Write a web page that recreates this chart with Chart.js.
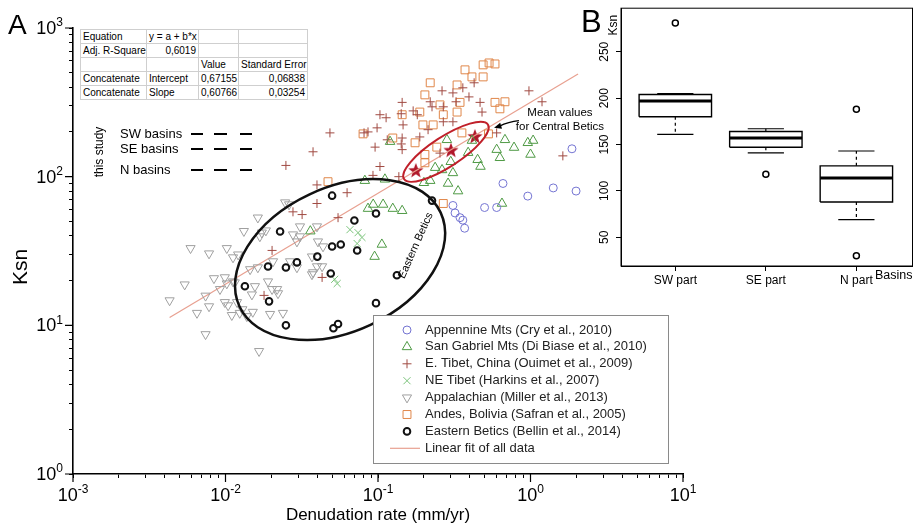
<!DOCTYPE html>
<html>
<head>
<meta charset="utf-8">
<script src="https://cdn.jsdelivr.net/npm/chart.js"></script>
<style>
  body { margin: 0; background: #fff; font-family: "Liberation Sans", Arial, sans-serif; }
  #wrap { position: relative; width: 918px; height: 529px; overflow: hidden; }
  #main { position: absolute; left: 0; top: 0; }
  #box { position: absolute; left: 580px; top: 0; }
  .panel { position: absolute; line-height: 1; color: #000; }
  table.fit { position: absolute; left: 80px; top: 29px; border-collapse: collapse; font-size: 10px;
              border: 1px solid #666; background: #fff; table-layout: fixed; width: 227px; }
  table.fit td { border: 1px solid #cfcfcf; height: 13px; line-height: 13px; padding: 0 2px; white-space: nowrap; overflow: hidden; }
  table.fit td.r { text-align: right; }
</style>
</head>
<body>
<div id="wrap">
  <canvas id="main" width="918" height="529"></canvas>
  <canvas id="box" width="338" height="290"></canvas>
  <div class="panel" style="left:8px;top:11px;font-size:28px">A</div>
  <div class="panel" style="left:581px;top:6px;font-size:31px">B</div>
  <table class="fit">
    <colgroup><col style="width:66px"><col style="width:52px"><col style="width:40px"><col style="width:69px"></colgroup>
    <tr><td>Equation</td><td>y = a + b*x</td><td></td><td></td></tr>
    <tr><td>Adj. R-Square</td><td class="r">0,6019</td><td></td><td></td></tr>
    <tr><td></td><td></td><td>Value</td><td>Standard Error</td></tr>
    <tr><td>Concatenate</td><td>Intercept</td><td>0,67155</td><td class="r">0,06838</td></tr>
    <tr><td>Concatenate</td><td>Slope</td><td>0,60766</td><td class="r">0,03254</td></tr>
  </table>
</div>
<script>
Chart.defaults.font.family = '"Liberation Sans", Arial, sans-serif';
Chart.defaults.color = '#000';

// ---- panel A data (denudation rate mm/yr, Ksn) ----
const xDecades = [0.001, 0.01, 0.1, 1, 10];
const xTickExp = ['-3', '-2', '-1', '0', '1'];
const yDecades = [1, 10, 100, 1000];
const yTickExp = ['0', '1', '2', '3'];

const appennineX = [1.87, 0.66, 0.96, 1.41, 1.99, 0.50, 0.60, 0.31, 0.32, 0.345, 0.36, 0.37];
const appennineY = [154, 90, 74, 84, 80, 62, 62, 64, 57, 53, 51, 45];

const sanGabrielX = [0.12, 0.283, 0.413, 0.60, 0.78, 0.68, 0.63, 0.96, 1.04, 1.0, 0.45, 0.47, 0.39, 0.30, 0.237, 0.263,
  0.31, 0.288, 0.335, 0.22, 0.082, 0.111, 0.093, 0.108, 0.125, 0.144, 0.086, 0.036, 0.106, 0.095, 0.65, 0.20];
const sanGabrielY = [172, 177, 175, 152, 157, 177, 134, 169, 175, 141, 130, 117, 145, 126, 115, 111,
  106, 90, 80, 94, 94, 96, 65, 65, 61, 59, 61, 43, 35, 29, 66, 91];

const eTibetX = [0.0484, 0.0375, 0.0249, 0.0398, 0.0627, 0.0957, 0.115, 0.103, 0.113, 0.081, 0.0986, 0.144, 0.142,
  0.146, 0.144, 0.142, 0.144, 0.103, 0.0927, 0.17, 0.181, 0.22, 0.226, 0.213, 0.137, 0.0398, 0.0277, 0.0318, 0.0547,
  0.0202, 0.0179, 0.043, 0.263, 0.31, 0.36, 0.395, 0.427, 0.467, 0.481, 0.325, 0.268, 0.268, 0.31, 0.977, 1.19, 1.63,
  0.188, 0.255, 0.60, 0.086];
const eTibetY = [197, 147, 119, 88, 78, 158, 177, 261, 249, 197, 213, 316, 265,
  223, 182, 166, 152, 117, 102, 277, 261, 319, 295, 207, 100, 66, 58, 55.6, 53,
  31.9, 15.9, 21, 378, 366, 396, 344, 428, 316, 272, 319, 295, 234, 234, 378, 319, 138,
  185, 144, 197, 200];

const neTibetX = [0.0655, 0.074, 0.0785, 0.073, 0.052, 0.054];
const neTibetY = [44, 42, 39, 35.5, 20.4, 19.1];

const appalachianX = [0.0163, 0.0246, 0.0261, 0.0132, 0.0173, 0.0184, 0.0059, 0.0078, 0.0102, 0.0112, 0.0084, 0.0099,
  0.0102, 0.0112, 0.0145, 0.0163, 0.019, 0.0202, 0.0218, 0.0221, 0.0265, 0.0294, 0.0043, 0.0065, 0.0074, 0.0078,
  0.0099, 0.0104, 0.011, 0.0124, 0.0138, 0.0119, 0.0074, 0.0166, 0.0196, 0.0238, 0.0308, 0.0277, 0.0398, 0.0404,
  0.043, 0.0369, 0.0168, 0.0308, 0.0294, 0.0436, 0.0369, 0.0398, 0.0375, 0.0205, 0.0121, 0.0156, 0.0149, 0.0115,
  0.0151, 0.0129, 0.0092, 0.0054];
const appalachianY = [53, 67, 65, 43, 42, 43.4, 33, 30.4, 33, 28.6, 20.7, 21,
  19.1, 19.7, 23.8, 24.5, 19.7, 17.5, 17.5, 16.4, 26.9, 24.5, 14.7, 12.1, 15.8, 13.4,
  14.3, 13.6, 11.7, 12.1, 11.5, 14.3, 8.7, 6.7, 11.9, 12.1, 46.2, 40.8, 46.2, 36.6,
  24.9, 22, 39.6, 39.6, 36.6, 33.9, 29, 24.9, 22.7, 26.9, 29.9, 18.3, 16.1, 19.4,
  12.3, 12.8, 17.5, 18.8];

const andesX = [0.489, 0.535, 0.585, 0.372, 0.413, 0.489, 0.33, 0.22, 0.203, 0.345, 0.255, 0.33, 0.188, 0.585, 0.68,
  0.63, 0.23, 0.197, 0.355, 0.53, 0.203, 0.203, 0.268, 0.268, 0.175, 0.243, 0.125, 0.144, 0.0798, 0.047];
const andesY = [565, 582, 573, 523, 469, 469, 414, 428, 355, 316, 304, 272, 272, 316, 319,
  286, 223, 223, 197, 194, 141, 124, 66, 261, 169, 158, 182, 261, 194, 92.5];

const easternBeticsX = [0.050, 0.070, 0.097, 0.226, 0.0228, 0.050, 0.057, 0.073, 0.040, 0.0294, 0.019, 0.0249,
  0.049, 0.133, 0.0134, 0.0193, 0.097, 0.0249, 0.051, 0.0547];
const easternBeticsY = [74.5, 50.7, 56.5, 69, 42.8, 33.9, 35, 31.9, 29, 26.5, 24.9, 24.5,
  22.3, 21.7, 18.3, 14.5, 14.1, 10, 9.55, 10.2];

const centralBeticsX = [0.177, 0.301, 0.432];
const centralBeticsY = [111, 152, 188];

const fitX = [0.0043, 2.05];
const fitY = [11.3, 490];

// ---- panel B data (Ksn by basin group) ----
const boxLabels = ['SW part', 'SE part', 'N part'];
const boxMin = [161, 141, 69];
const boxQ1 = [180, 147, 88];
const boxMed = [197, 157, 114];
const boxQ3 = [204, 164, 127];
const boxMax = [205, 167, 143];
const boxOutliers = [[281], [118], [188, 30]];

function pts(xs, ys) { return xs.map((x, i) => ({ x: x, y: ys[i] })); }

function logTicks(decades) {
  const t = [];
  decades.forEach((d, i) => {
    t.push({ value: d, major: true });
    if (i < decades.length - 1) for (let m = 2; m <= 9; m++) t.push({ value: d * m, major: false });
  });
  return t;
}

function makeStar(r, color) {
  const c = document.createElement('canvas');
  c.width = c.height = Math.ceil(r * 2 + 2);
  const g = c.getContext('2d');
  g.translate(c.width / 2, c.height / 2 + 1);
  g.beginPath();
  for (let i = 0; i < 10; i++) {
    const rad = i % 2 ? r * 0.42 : r;
    const a = -Math.PI / 2 + i * Math.PI / 5;
    g.lineTo(Math.cos(a) * rad, Math.sin(a) * rad);
  }
  g.closePath();
  g.fillStyle = color;
  g.fill();
  return c;
}

function drawMarker(ctx, style, r, rot, x, y) {
  ctx.beginPath();
  if (style === 'circle') ctx.arc(x, y, r, 0, Math.PI * 2);
  else if (style === 'rect') { const s = r * Math.SQRT1_2; ctx.rect(x - s, y - s, 2 * s, 2 * s); }
  else if (style === 'triangle') {
    const a0 = rot * Math.PI / 180;
    for (let k = 0; k < 3; k++) { const a = a0 + k * 2 * Math.PI / 3; ctx.lineTo(x + Math.sin(a) * r, y - Math.cos(a) * r); }
    ctx.closePath();
  } else if (style === 'cross') { ctx.moveTo(x, y - r); ctx.lineTo(x, y + r); ctx.moveTo(x - r, y); ctx.lineTo(x + r, y); }
  else if (style === 'crossRot') {
    const d = r * Math.SQRT1_2;
    ctx.moveTo(x - d, y - d); ctx.lineTo(x + d, y + d); ctx.moveTo(x + d, y - d); ctx.lineTo(x - d, y + d);
  }
  ctx.stroke();
}

function marks(label, xs, ys, style, r, color, lw, rot) {
  return {
    label: label, data: pts(xs, ys),
    pointStyle: style, pointRadius: r, pointRotation: rot || 0,
    borderColor: color, backgroundColor: 'rgba(0,0,0,0)', borderWidth: lw
  };
}

const mainSets = [
  marks('Eastern Betics (Bellin et al., 2014)', easternBeticsX, easternBeticsY, 'circle', 3.3, '#111', 2),
  marks('Appennine Mts (Cry et al., 2010)', appennineX, appennineY, 'circle', 4, '#7474d2', 1),
  marks('San Gabriel Mts (Di Biase et al., 2010)', sanGabrielX, sanGabrielY, 'triangle', 5.5, '#4f9a45', 1),
  marks('E. Tibet, China (Ouimet et al., 2009)', eTibetX, eTibetY, 'cross', 4.5, '#a04a42', 1),
  marks('NE Tibet (Harkins et al., 2007)', neTibetX, neTibetY, 'crossRot', 5, '#7cc47c', 1),
  marks('Appalachian (Miller et al., 2013)', appalachianX, appalachianY, 'triangle', 5.3, '#a0a0a0', 1, 180),
  marks('Andes, Bolivia (Safran et al., 2005)', andesX, andesY, 'rect', 5.6, '#e0874a', 1),
  { label: 'Linear fit of all data', data: pts(fitX, fitY), showLine: true,
    pointRadius: 0, borderColor: '#e8a090', borderWidth: 1.2 },
  { label: 'Central Betics', data: pts(centralBeticsX, centralBeticsY), pointStyle: makeStar(8, '#b0182a'),
    pointRadius: 8, borderWidth: 0 }
];
const keyOrder = [1, 2, 3, 4, 5, 6, 0, 7];

const FONT = s => s + 'px "Liberation Sans", Arial, sans-serif';

// "10" with a raised exponent, anchored by its right edge or centre
function powText(ctx, exp, x, y, align) {
  ctx.font = FONT(18);
  const wb = ctx.measureText('10').width;
  ctx.font = FONT(12);
  const we = ctx.measureText(exp).width;
  const x0 = align === 'right' ? x - wb - we : x - (wb + we) / 2;
  ctx.textAlign = 'left'; ctx.textBaseline = 'middle';
  ctx.font = FONT(18); ctx.fillText('10', x0, y);
  ctx.font = FONT(12); ctx.fillText(exp, x0 + wb, y - 6);
}

const decorA = {
  id: 'decorA',
  afterDraw(chart) {
    const ctx = chart.ctx, xs = chart.scales.x, ys = chart.scales.y, a = chart.chartArea;
    ctx.save();
    ctx.fillStyle = '#000';

    // longer ticks and labels at the decades
    ctx.strokeStyle = '#000'; ctx.lineWidth = 1.2;
    ctx.beginPath();
    xDecades.forEach(d => { const p = xs.getPixelForValue(d); ctx.moveTo(p, a.bottom); ctx.lineTo(p, a.bottom + 8); });
    yDecades.forEach(d => { const p = ys.getPixelForValue(d); ctx.moveTo(a.left, p); ctx.lineTo(a.left - 8, p); });
    ctx.stroke();
    xDecades.forEach((d, i) => powText(ctx, xTickExp[i], xs.getPixelForValue(d), a.bottom + 22, 'center'));
    yDecades.forEach((d, i) => powText(ctx, yTickExp[i], a.left - 10, ys.getPixelForValue(d) + 1, 'right'));

    // axis title on the left
    ctx.save();
    ctx.translate(21, 267); ctx.rotate(-Math.PI / 2);
    ctx.textAlign = 'center'; ctx.textBaseline = 'middle'; ctx.font = FONT(21);
    ctx.fillText('Ksn', 0, 0);
    ctx.restore();

    // ellipses
    const ell = (cx, cy, rx, ry, deg, color, lw) => {
      ctx.beginPath();
      ctx.ellipse(xs.getPixelForValue(cx), ys.getPixelForValue(cy), rx, ry, deg * Math.PI / 180, 0, Math.PI * 2);
      ctx.strokeStyle = color; ctx.lineWidth = lw; ctx.stroke();
    };
    ell(0.0564, 27.7, 111, 72, -25, '#111', 2.5);
    ell(0.279, 147, 50, 15, -33, '#c0202a', 2);

    // "Eastern Betics" label
    ctx.font = FONT(11); ctx.textAlign = 'center'; ctx.textBaseline = 'middle';
    ctx.save();
    ctx.translate(xs.getPixelForValue(0.177), ys.getPixelForValue(34.4));
    ctx.rotate(-66 * Math.PI / 180);
    ctx.fillText('Eastern Betics', 0, 0);
    ctx.restore();

    // mean values note + arrow
    const tx = xs.getPixelForValue(1.56), ty = ys.getPixelForValue(269);
    ctx.font = FONT(11.5);
    ctx.fillText('Mean values', tx, ty);
    ctx.fillText('for Central Betics', tx, ty + 14);
    const x0 = xs.getPixelForValue(0.84), y0 = ys.getPixelForValue(238);
    const x1 = xs.getPixelForValue(0.577), y1 = ys.getPixelForValue(213);
    ctx.strokeStyle = '#000'; ctx.lineWidth = 1.3;
    ctx.beginPath(); ctx.moveTo(x0, y0); ctx.quadraticCurveTo((x0 + x1) / 2 + 2, y0 + 1, x1 + 5, y1 - 1.5); ctx.stroke();
    const ang = Math.atan2(y1 - (y0 + 2), x1 - (x0 - 8));
    ctx.beginPath();
    ctx.moveTo(x1, y1);
    ctx.lineTo(x1 - 8 * Math.cos(ang - 0.4), y1 - 8 * Math.sin(ang - 0.4));
    ctx.lineTo(x1 - 8 * Math.cos(ang + 0.4), y1 - 8 * Math.sin(ang + 0.4));
    ctx.closePath(); ctx.fill();

    // "this study" key
    ctx.save();
    ctx.translate(a.left + 27, 152); ctx.rotate(-Math.PI / 2);
    ctx.font = FONT(12); ctx.fillText('this study', 0, 0);
    ctx.restore();
    ctx.textAlign = 'left'; ctx.font = FONT(13);
    [['SW basins', 134], ['SE basins', 149], ['N basins', 170]].forEach(([t, y]) => {
      ctx.fillText(t, a.left + 47, y);
      ctx.beginPath();
      [[191, 203], [214, 227], [240, 252]].forEach(([p, q]) => { ctx.moveTo(p, y); ctx.lineTo(q, y); });
      ctx.lineWidth = 1.8; ctx.stroke();
    });

    // legend box
    const L = 373, T = 315, W = 295, H = 148;
    ctx.fillStyle = '#fff'; ctx.fillRect(L, T, W, H);
    ctx.strokeStyle = '#8a8a8a'; ctx.lineWidth = 1; ctx.strokeRect(L + 0.5, T + 0.5, W, H);
    ctx.font = FONT(13); ctx.textBaseline = 'middle';
    keyOrder.forEach((idx, row) => {
      const ds = chart.data.datasets[idx];
      const y = T + 15 + row * 16.9;
      ctx.strokeStyle = ds.borderColor; ctx.lineWidth = ds.borderWidth;
      if (ds.showLine) {
        ctx.beginPath(); ctx.moveTo(390, y); ctx.lineTo(420, y); ctx.stroke();
      } else {
        drawMarker(ctx, ds.pointStyle, ds.pointRadius, ds.pointRotation, 407, y);
      }
      ctx.fillStyle = '#222';
      ctx.fillText(ds.label, 425, y);
    });
    ctx.restore();
  }
};

new Chart(document.getElementById('main'), {
  type: 'scatter',
  data: { datasets: mainSets },
  options: {
    responsive: false,
    animation: false,
    layout: { padding: { left: 0, right: 235, top: 28, bottom: 0 } },
    scales: {
      x: {
        type: 'logarithmic', min: 0.001, max: 10,
        afterBuildTicks: s => { s.ticks = logTicks(xDecades); },
        afterFit: s => { s.height = 55; },
        grid: { drawOnChartArea: false, tickLength: 4, tickColor: '#000' },
        border: { color: '#000', width: 1.6 },
        ticks: { display: false },
        title: { display: true, text: 'Denudation rate (mm/yr)', font: { size: 17 }, padding: { top: 0, bottom: 3 } }
      },
      y: {
        type: 'logarithmic', min: 1, max: 1000,
        afterBuildTicks: s => { s.ticks = logTicks(yDecades); },
        afterFit: s => { s.width = 73; },
        grid: { drawOnChartArea: false, tickLength: 4, tickColor: '#000' },
        border: { color: '#000', width: 1.6 },
        ticks: { display: false }
      }
    },
    plugins: { legend: { display: false }, tooltip: { enabled: false } }
  },
  plugins: [decorA]
});

// ---- panel B: box plot built from line segments ----
const boxHalf = 0.4, capHalf = 0.2;
const gap = { x: null, y: null };
const boxPath = [], medPath = [], whiskPath = [], capPath = [], outPts = [];
boxLabels.forEach((_, i) => {
  const c = i + 1;
  boxPath.push({ x: c - boxHalf, y: boxQ1[i] }, { x: c + boxHalf, y: boxQ1[i] }, { x: c + boxHalf, y: boxQ3[i] },
    { x: c - boxHalf, y: boxQ3[i] }, { x: c - boxHalf, y: boxQ1[i] }, gap);
  medPath.push({ x: c - boxHalf, y: boxMed[i] }, { x: c + boxHalf, y: boxMed[i] }, gap);
  whiskPath.push({ x: c, y: boxQ3[i] }, { x: c, y: boxMax[i] }, gap, { x: c, y: boxQ1[i] }, { x: c, y: boxMin[i] }, gap);
  capPath.push({ x: c - capHalf, y: boxMax[i] }, { x: c + capHalf, y: boxMax[i] }, gap,
    { x: c - capHalf, y: boxMin[i] }, { x: c + capHalf, y: boxMin[i] }, gap);
  boxOutliers[i].forEach(v => outPts.push({ x: c, y: v }));
});
const seg = (data, lw, dash) => ({ data: data, showLine: true, pointRadius: 0, borderColor: '#000',
  borderWidth: lw, borderDash: dash || [], spanGaps: false });

const decorB = {
  id: 'decorB',
  afterDraw(chart) {
    const ctx = chart.ctx, a = chart.chartArea;
    ctx.save();
    ctx.strokeStyle = '#000'; ctx.lineWidth = 1;
    ctx.strokeRect(a.left, a.top, a.right - a.left, a.bottom - a.top);
    ctx.fillStyle = '#000'; ctx.textBaseline = 'middle';
    ctx.font = FONT(12);
    ctx.save();
    ctx.translate(a.left - 7, a.top + 17); ctx.rotate(-Math.PI / 2);
    ctx.textAlign = 'center'; ctx.fillText('Ksn', 0, 0);
    ctx.restore();
    ctx.font = FONT(12.5);
    ctx.textAlign = 'right'; ctx.fillText('Basins', a.right, a.bottom + 10);
    ctx.restore();
  }
};

new Chart(document.getElementById('box'), {
  type: 'scatter',
  data: {
    datasets: [
      seg(boxPath, 1.4), seg(medPath, 3), seg(whiskPath, 1.2, [3, 3]), seg(capPath, 1.2),
      { data: outPts, pointStyle: 'circle', pointRadius: 3, borderColor: '#000', borderWidth: 1.5, backgroundColor: 'rgba(0,0,0,0)' }
    ]
  },
  options: {
    responsive: false,
    animation: false,
    layout: { padding: { left: 0, right: 1, top: 5, bottom: 0 } },
    scales: {
      x: {
        type: 'linear', min: 0.4, max: 3.62,
        afterFit: s => { s.height = 24; },
        grid: { drawOnChartArea: false, tickLength: 5, tickColor: '#000' },
        border: { color: '#000', width: 1 },
        ticks: { stepSize: 1, includeBounds: false, maxRotation: 0, padding: 2, font: { size: 12 },
                 callback: v => boxLabels[v - 1] || '' }
      },
      y: {
        min: 19, max: 297,
        afterFit: s => { s.width = 41; },
        grid: { drawOnChartArea: false, tickLength: 5, tickColor: '#000' },
        border: { color: '#000', width: 1 },
        ticks: { stepSize: 50, includeBounds: false, minRotation: 90, maxRotation: 90, crossAlign: 'center',
                 padding: 1, font: { size: 12 } }
      }
    },
    plugins: { legend: { display: false }, tooltip: { enabled: false } }
  },
  plugins: [decorB]
});
</script>
</body>
</html>
